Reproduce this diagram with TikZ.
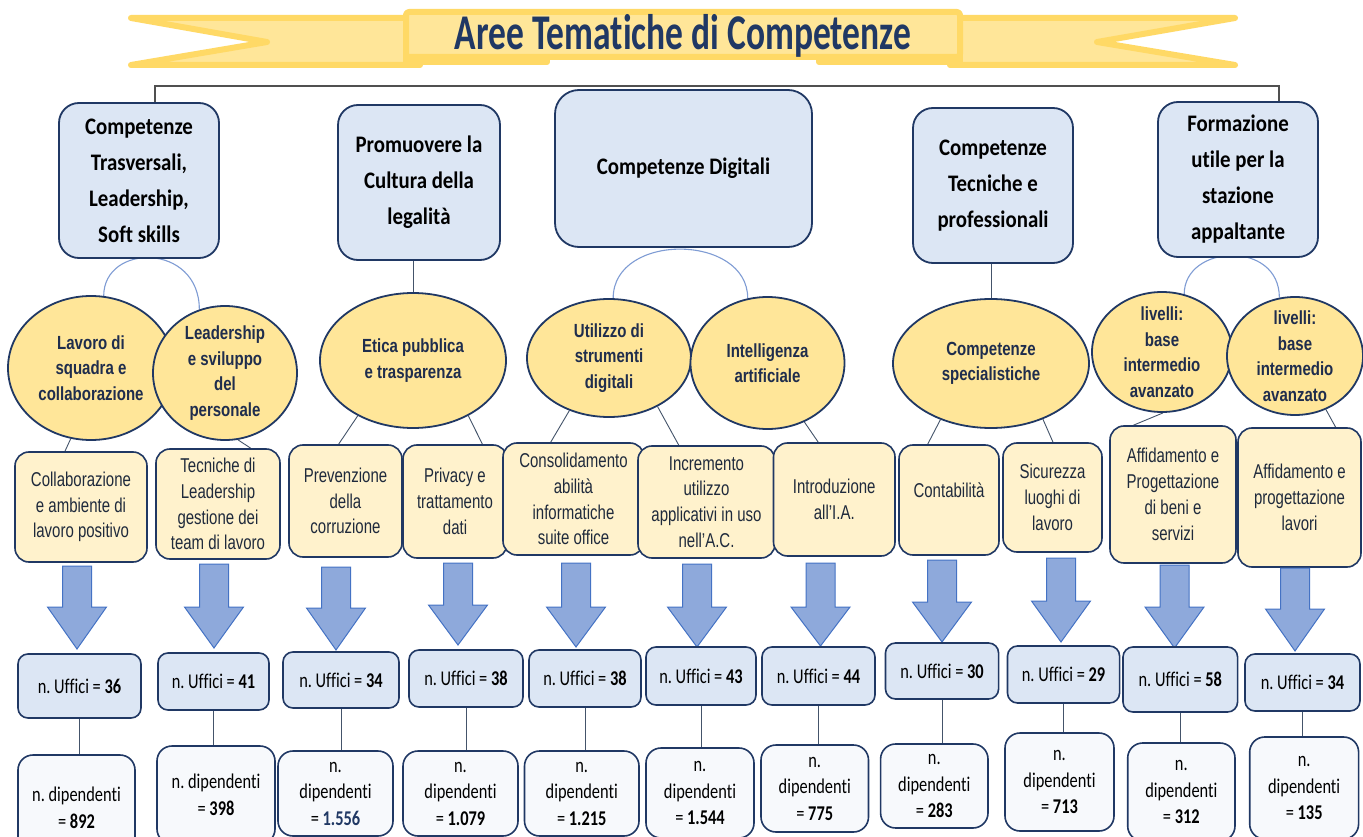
\documentclass[tikz,border=0pt]{standalone}
\usepackage{fontspec}
\setmainfont[Ligatures=NoCommon,RawFeature=-calt]{Carlito}
\newfontfamily\titlefont[FakeStretch=0.71,Ligatures=NoCommon,RawFeature=-calt]{Carlito}
\newfontfamily\headfont[FakeStretch=0.88,Ligatures=NoCommon,RawFeature=-calt]{Carlito}
\newfontfamily\numfont[FakeStretch=0.78,Ligatures=NoCommon,RawFeature=-calt]{Carlito}
\newfontfamily\ellfont[FakeStretch=0.79]{Liberation Sans}
\newfontfamily\leaffont[FakeStretch=0.75]{Liberation Sans}
\usetikzlibrary{shapes.geometric,calc}
\pgfdeclarelayer{bg}\pgfdeclarelayer{links}\pgfsetlayers{bg,links,main}
\frenchspacing
\definecolor{navy}{HTML}{203864}
\definecolor{topfill}{HTML}{DCE6F4}
\definecolor{ellfill}{HTML}{FFE699}
\definecolor{leaffill}{HTML}{FFF2CC}
\definecolor{dipfill}{HTML}{F7F9FC}
\definecolor{arrfill}{HTML}{8EA9DB}
\definecolor{arrdraw}{HTML}{4472C4}
\definecolor{connc}{HTML}{44546A}
\definecolor{arcblue}{HTML}{7F9CD4}
\definecolor{ribfill}{HTML}{FFE699}
\definecolor{ribedge}{HTML}{FFD966}
\definecolor{elltext}{HTML}{1F2D4D}
\definecolor{leaftext}{HTML}{1F2A3C}
\definecolor{toplinec}{HTML}{505050}
\tikzset{
  topbox/.style={draw=navy, line width=1.8pt, fill=topfill, rounded corners=20pt, inner sep=0pt, align=center,
    font=\headfont\bfseries\fontsize{23.7}{36}\selectfont, text=black},
  ell/.style={ellipse, draw=navy, line width=1.8pt, fill=ellfill, inner sep=-14pt, align=center,
    font=\ellfont\bfseries\fontsize{19}{25.5}\selectfont, text=elltext},
  leaf/.style={draw=navy, line width=1.6pt, fill=leaffill, rounded corners=14pt, inner sep=0pt, align=center,
    font=\leaffont\fontsize{20}{25.8}\selectfont, text=leaftext},
  uff/.style={draw=navy, line width=1.6pt, fill=topfill, rounded corners=10pt, inner sep=0pt, align=center,
    font=\numfont\fontsize{21}{26.5}\selectfont, text=black},
  dip/.style={draw=navy, line width=1.6pt, fill=dipfill, rounded corners=15pt, inner sep=0pt, align=center,
    font=\numfont\fontsize{21}{26.5}\selectfont, text=black},
  conn/.style={draw=connc, line width=0.9pt},
  arcc/.style={draw=arcblue, line width=1.1pt},
  blockarrow/.style={fill=arrfill, draw=arrdraw, line width=1pt, line join=miter},
  ribbon/.style={fill=ribfill, draw=ribedge, line width=6pt, line join=round},
  topline/.style={draw=toplinec, line width=1.2pt},
}
\newcommand\mybox[7]{\node[#1,minimum width={(#4)-(#2)},minimum height={(#5)-(#3)}] (#6) at ({((#2)+(#4))/2},{((#3)+(#5))/2}) {#7};}
\newcommand\myell[6]{\node[ell,minimum width={2*(#4)},minimum height={2*(#5)}] (#1) at (#2,#3) {#6};}
\newcommand\blockarr[4]{\path[blockarrow] ({#1-14.5},#2) -- ({#1+14.5},#2) -- ({#1+14.5},#3) -- ({#1+29.5},#3) -- (#1,#4) -- ({#1-29.5},#3) -- ({#1-14.5},#3) -- cycle;}
\begin{document}
\begin{tikzpicture}[x=1pt,y=-1pt]
\useasboundingbox (0,0) rectangle (1363,837);
\begin{pgfonlayer}{bg}
\fill[white] (0,0) rectangle (1363,837);
\end{pgfonlayer}

% title banner
\path[ribbon] (131,18) -- (420,18) -- (420,65) -- (131,65) -- (267,42) -- cycle;
\path[ribbon] (950,18) -- (1235,18) -- (1097,42) -- (1235,65) -- (950,65) -- cycle;
\path[ribbon, fill=ribedge] (406,50) rectangle (547,62);
\path[ribbon, fill=ribedge] (819,50) rectangle (960,62);
\path[ribbon, rounded corners=3pt] (406,12) rectangle (960,57);
\node[font=\titlefont\bfseries\fontsize{50}{50}\selectfont, text=navy, anchor=base, inner sep=0pt] (T) at (683,50) {Aree Tematiche di Competenze};

% top boxes
\mybox{topbox}{59}{103}{219}{258}{B1}{Competenze\\Trasversali,\\Leadership,\\Soft skills}
\mybox{topbox}{338}{105}{500}{260}{B2}{Promuovere la\\Cultura della\\legalità}
\mybox{topbox, rounded corners=24pt}{555}{90}{812}{247}{B3}{Competenze Digitali}
\mybox{topbox}{913}{108}{1073}{263}{B4}{Competenze\\Tecniche e\\professionali}
\mybox{topbox}{1158}{102}{1318}{257}{B5}{Formazione\\utile per la\\stazione\\appaltante}

% ellipses
\myell{E1}{91}{368}{83}{72}{Lavoro di\\squadra e\\collaborazione}
\myell{E2}{225}{373}{72}{67}{Leadership\\e sviluppo\\del\\personale}
\myell{E3}{413}{360.5}{93}{67.5}{Etica pubblica\\e trasparenza}
\myell{E4}{609}{358}{82}{59}{Utilizzo di\\strumenti\\digitali}
\myell{E5}{767.5}{363}{77}{66}{Intelligenza\\artificiale}
\myell{E6}{991}{363.5}{98}{64.5}{Competenze\\specialistiche}
\myell{E7}{1162}{352}{70}{60}{livelli:\\base\\intermedio\\avanzato}
\myell{E8}{1295}{356}{68}{59}{livelli:\\base\\intermedio\\avanzato}

% leaf boxes
\mybox{leaf}{15}{452}{147}{562}{L1}{Collaborazione\\e ambiente di\\lavoro positivo}
\mybox{leaf}{156}{449}{280}{559}{L2}{Tecniche di\\Leadership\\gestione dei\\team di lavoro}
\mybox{leaf}{289}{445}{402}{557}{L3}{Prevenzione\\della\\corruzione}
\mybox{leaf}{403}{445}{507}{558}{L4}{Privacy e\\trattamento\\dati}
\mybox{leaf}{503}{443}{644}{555}{L5}{Consolidamento\\abilità\\informatiche\\suite office}
\mybox{leaf}{638}{446}{775}{558}{L6}{Incremento\\utilizzo\\applicativi in uso\\nell’A.C.}
\mybox{leaf}{773.5}{443}{895}{556}{L7}{Introduzione\\all’I.A.}
\mybox{leaf}{899}{445}{999}{555}{L8}{\raisebox{0pt}[0pt][6pt]{Contabilità}}
\mybox{leaf}{1003}{443}{1102}{552}{L9}{Sicurezza\\luoghi di\\lavoro}
\mybox{leaf}{1110}{426}{1236}{563}{L10}{Affidamento e\\Progettazione\\di beni e\\servizi}
\mybox{leaf}{1238}{428}{1361}{567}{L11}{Affidamento e\\progettazione\\lavori}

% block arrows
\blockarr{77}{566}{607}{649}
\blockarr{214}{564}{607}{648}
\blockarr{336}{567}{608}{650}
\blockarr{458}{563}{605}{645}
\blockarr{576}{563}{607}{647}
\blockarr{697}{564}{607}{647}
\blockarr{820.5}{563}{607}{646}
\blockarr{942}{560}{602}{642}
\blockarr{1061}{558}{601}{642}
\blockarr{1174.5}{565}{607}{648}
\blockarr{1295}{568}{609}{651}

% uffici
\mybox{uff}{18}{654}{141}{718}{U1}{n. Uffici = \textbf{36}}
\mybox{uff}{158}{653}{269}{710}{U2}{n. Uffici = \textbf{41}}
\mybox{uff}{283}{652}{399}{708}{U3}{n. Uffici = \textbf{34}}
\mybox{uff}{409}{650}{523}{707}{U4}{n. Uffici = \textbf{38}}
\mybox{uff}{529}{650}{641}{707}{U5}{n. Uffici = \textbf{38}}
\mybox{uff}{646}{647}{756}{705}{U6}{n. Uffici = \textbf{43}}
\mybox{uff}{762}{647}{875}{705}{U7}{n. Uffici = \textbf{44}}
\mybox{uff}{885.5}{643}{998.6}{699}{U8}{n. Uffici = \textbf{30}}
\mybox{uff}{1007.5}{646}{1119.6}{703}{U9}{n. Uffici = \textbf{29}}
\mybox{uff}{1123}{647}{1237.6}{712}{U10}{n. Uffici = \textbf{58}}
\mybox{uff}{1245}{654}{1360}{711}{U11}{n. Uffici = \textbf{34}}

% dipendenti
\mybox{dip}{18}{755}{135}{861}{D1}{n. dipendenti\\= \textbf{892}}
\mybox{dip}{157}{746}{275}{844}{D2}{n. dipendenti\\= \textbf{398}}
\mybox{dip}{278}{751}{393}{836}{D3}{n.\\dipendenti\\= {\bfseries\color{navy}1.556}}
\mybox{dip}{403}{751}{518}{836}{D4}{n.\\dipendenti\\= \textbf{1.079}}
\mybox{dip}{524.5}{751}{639}{836}{D5}{n.\\dipendenti\\= \textbf{1.215}}
\mybox{dip}{646}{748}{754}{838}{D6}{n.\\dipendenti\\= \textbf{1.544}}
\mybox{dip}{761}{745}{868.5}{832}{D7}{n.\\dipendenti\\= \textbf{775}}
\mybox{dip}{880.6}{744}{988}{828}{D8}{n.\\dipendenti\\= \textbf{283}}
\mybox{dip}{1005}{733}{1114}{831}{D9}{n.\\dipendenti\\= \textbf{713}}
\mybox{dip}{1127.7}{743}{1235}{841}{D10}{n.\\dipendenti\\= \textbf{312}}
\mybox{dip}{1249.7}{737}{1358.6}{839}{D11}{n.\\dipendenti\\= \textbf{135}}

% connectors
\coordinate (TL) at (155,86);
\coordinate (TR) at (1279,86);
\begin{pgfonlayer}{links}
\draw[topline] (TL |- B1.north) -- (TL) -- (TR) -- (TR |- B5.north);
\draw[conn] (E3.north |- B2.south) -- (E3.north);
\draw[conn] (E6.north |- B4.south) -- (E6.north);
\draw[arcc] (E1.80) .. controls +(0,-53) and +(0,-67) .. (E2.112);
\draw[arcc] (E4.86) .. controls +(0,-66) and +(0,-65) .. (E5.107);
\draw[arcc] (E7.69) .. controls +(0,-50) and +(0,-58) .. (E8.105);
\draw[conn] (E1.254) -- ($(L1.north west)!0.38!(L1.north east)$);
\draw[conn] (E2.281) -- ($(L2.north west)!0.76!(L2.north east)$);
\draw[conn] (E3.225) -- ($(L3.north west)!0.44!(L3.north east)$);
\draw[conn] (E3.315) -- ($(L4.north west)!0.76!(L4.north east)$);
\draw[conn] (E4.233) -- ($(L5.north west)!0.34!(L5.north east)$);
\draw[conn] (E4.315) -- ($(L6.north west)!0.30!(L6.north east)$);
\draw[conn] (E5.302) -- ($(L7.north west)!0.37!(L7.north east)$);
\draw[conn] (E6.228) -- ($(L8.north west)!0.29!(L8.north east)$);
\draw[conn] (E6.313) -- ($(L9.north west)!0.505!(L9.north east)$);
\draw[conn] (E7.271) -- ($(L10.north west)!0.19!(L10.north east)$);
\draw[conn] (E8.300) -- ($(L11.north west)!0.79!(L11.north east)$);
\foreach \i in {1,...,11} {\draw[conn] (U\i.south) -- (U\i.south |- D\i.north);}
\end{pgfonlayer}
\end{tikzpicture}
\end{document}
